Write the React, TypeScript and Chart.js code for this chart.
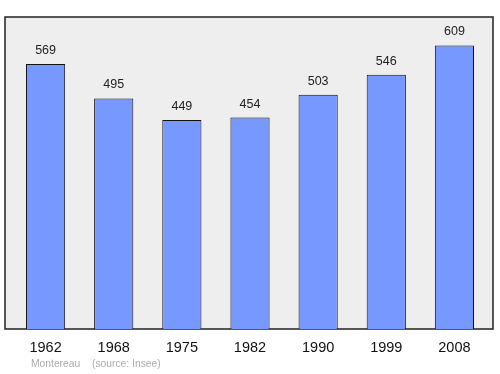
import React, { useEffect, useRef } from "react";
import { Chart, registerables } from "chart.js";

Chart.register(...registerables);

const years = ["1962", "1968", "1975", "1982", "1990", "1999", "2008"];
const population = [569, 495, 449, 454, 503, 546, 609];
const footerPlace = "Montereau";
const footerSource = "(source: Insee)";

const frame = {
  id: "frame",
  beforeDraw(chart: any) {
    const { ctx, chartArea } = chart;
    const l = chartArea.left - 6.5;
    const r = chartArea.right + 4.5;
    const t = chartArea.top;
    const b = chartArea.bottom;
    ctx.save();
    ctx.fillStyle = "#eeeeee";
    ctx.fillRect(l, t, r - l, b - t);
    ctx.lineWidth = 1.5;
    ctx.strokeStyle = "#222222";
    ctx.strokeRect(l, t, r - l, b - t);
    ctx.restore();
  },
  afterDatasetsDraw(chart: any) {
    const { ctx } = chart;
    const meta = chart.getDatasetMeta(0);
    ctx.save();
    ctx.font = "12.5px 'Liberation Sans', Arial, sans-serif";
    ctx.fillStyle = "#222222";
    ctx.textAlign = "center";
    ctx.textBaseline = "alphabetic";
    meta.data.forEach((bar: any, i: number) => {
      ctx.fillText(String(chart.data.datasets[0].data[i]), bar.x, bar.y - 10);
    });
    ctx.font = "10.3px 'Liberation Sans', Arial, sans-serif";
    ctx.fillStyle = "#aaaaaa";
    ctx.textAlign = "left";
    ctx.textBaseline = "middle";
    ctx.fillText(footerPlace, 31, 364);
    ctx.fillText(footerSource, 92, 364);
    ctx.restore();
  },
};

export default function App() {
  const ref = useRef<HTMLCanvasElement | null>(null);
  useEffect(() => {
    if (!ref.current) return;
    const chart = new Chart(ref.current, {
      type: "bar",
      data: {
        labels: years,
        datasets: [
          {
            data: population,
            backgroundColor: "#7799ff",
            borderColor: "#111111",
            borderWidth: 1,
            barPercentage: 0.575,
            categoryPercentage: 1,
          },
        ],
      },
      options: {
        animation: false,
        responsive: false,
        maintainAspectRatio: false,
        layout: { padding: { left: 11.5, right: 11.5, top: 17, bottom: 0 } },
        plugins: { legend: { display: false }, tooltip: { enabled: false }, title: { display: false } },
        scales: {
          x: {
            grid: { display: false, drawTicks: false },
            border: { display: false },
            ticks: {
              color: "#111111",
              font: { family: "'Liberation Sans', Arial, sans-serif", size: 14.5 },
              padding: 10,
            },
            afterFit: (scale: any) => {
              scale.height = 45;
            },
          },
          y: { display: false, min: 0, max: 670 },
        },
      },
      plugins: [frame],
    });
    return () => chart.destroy();
  }, []);
  return (
    <div style={{ position: "absolute", left: 0, top: 0, width: 500, height: 374 }}>
      <canvas ref={ref} width={500} height={374} style={{ width: 500, height: 374 }} />
    </div>
  );
}
